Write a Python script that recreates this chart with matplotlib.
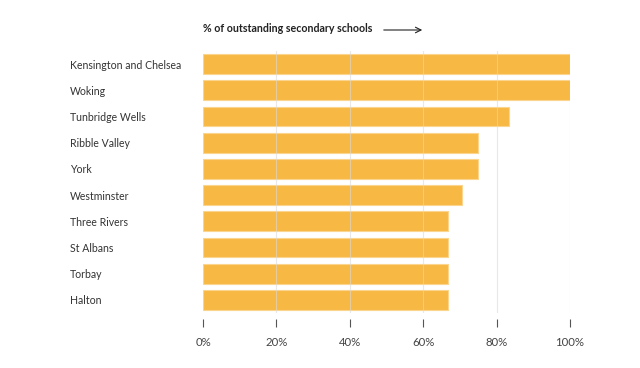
import matplotlib.pyplot as plt

plt.rcParams['font.family'] = ['Lato', 'DejaVu Sans']

areas = ["Kensington and Chelsea", "Woking", "Tunbridge Wells", "Ribble Valley",
         "York", "Westminster", "Three Rivers", "St Albans", "Torbay", "Halton"]
pct = [100, 100, 83.3, 75, 75, 70.6, 66.7, 66.7, 66.7, 66.7]
ticks = [0, 20, 40, 60, 80, 100]
tick_labels = ["0%", "20%", "40%", "60%", "80%", "100%"]

fig = plt.figure(figsize=(6.4, 3.68), dpi=100)
ax = fig.add_axes([203 / 640, 1 - 313 / 368, 367 / 640, 262 / 368])
for s in ax.spines.values():
    s.set_visible(False)
ax.spines["bottom"].set_position(("outward", 4))

y = list(range(len(areas)))
ax.barh(y, pct, height=0.76, color="#F7B844", edgecolor="#FBD58E", linewidth=0.8, zorder=2)
for t in ticks[1:]:
    ax.axvline(t, color="#d9d9d9", linewidth=0.8, alpha=0.6, zorder=3)

ax.set_xlim(0, 100)
ax.set_ylim(len(areas) - 0.5, -0.5)
ax.set_yticks(y)
ax.set_yticklabels(areas, ha="left", fontsize=7.6, color="#333333")
ax.tick_params(axis="y", length=0, pad=96)
ax.set_xticks(ticks)
ax.set_xticklabels(tick_labels, fontsize=8.2, color="#444444")
ax.tick_params(axis="x", length=5.8, width=0.8, color="#555555", pad=7.5)

# title with arrow
fig.text(203 / 640, 1 - 29 / 368, "% of outstanding secondary schools",
         fontsize=7.7, fontweight="bold", color="#222222", va="center")
ax.annotate("", xy=(425 / 640, 1 - 30 / 368), xytext=(381 / 640, 1 - 30 / 368),
            xycoords="figure fraction", textcoords="figure fraction",
            arrowprops=dict(arrowstyle="->", color="#222222", lw=0.8))

fig.savefig("out.png", dpi=100)
